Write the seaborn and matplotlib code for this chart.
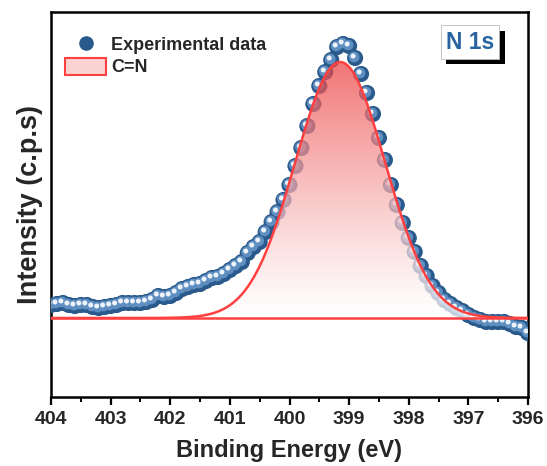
import numpy as np
import pandas as pd
import matplotlib
matplotlib.use("Agg")
import matplotlib.pyplot as plt
import matplotlib.transforms as mtransforms
import matplotlib.patheffects as pe
from matplotlib.lines import Line2D
from matplotlib.patches import Patch
import seaborn as sns

# N 1s high-resolution spectrum (binding energy in eV, intensity in counts/s)
binding_energy = [
    404.0, 403.9, 403.8, 403.7, 403.6, 403.5, 403.4, 403.3, 403.2, 403.1,
    403.0, 402.9, 402.8, 402.7, 402.6, 402.5, 402.4, 402.3, 402.2, 402.1,
    402.0, 401.9, 401.8, 401.7, 401.6, 401.5, 401.4, 401.3, 401.2, 401.1,
    401.0, 400.9, 400.8, 400.7, 400.6, 400.5, 400.4, 400.3, 400.2, 400.1,
    400.0, 399.9, 399.8, 399.7, 399.6, 399.5, 399.4, 399.3, 399.2, 399.1,
    399.0, 398.9, 398.8, 398.7, 398.6, 398.5, 398.4, 398.3, 398.2, 398.1,
    398.0, 397.9, 397.8, 397.7, 397.6, 397.5, 397.4, 397.3, 397.2, 397.1,
    397.0, 396.9, 396.8, 396.7, 396.6, 396.5, 396.4, 396.3, 396.2, 396.1,
    396.0,
]
intensity = [
    920, 930, 940, 920, 910, 920, 920, 900, 890, 900,
    910, 920, 940, 940, 940, 940, 950, 970, 1010, 1000,
    1010, 1040, 1080, 1100, 1120, 1130, 1160, 1190, 1200, 1230,
    1270, 1310, 1350, 1440, 1500, 1550, 1650, 1750, 1850, 1970,
    2120, 2310, 2490, 2710, 2930, 3110, 3250, 3370, 3500, 3530,
    3510, 3390, 3230, 3040, 2830, 2590, 2370, 2120, 1920, 1740,
    1590, 1450, 1310, 1210, 1110, 1040, 970, 930, 890, 860,
    820, 790, 770, 750, 750, 750, 750, 730, 700, 690,
    640,
]

# C=N component (Gaussian) on a flat background
peak_center = 399.15
peak_fwhm = 1.78
peak_height = 2560
background = 790

x_ticks = [404, 403, 402, 401, 400, 399, 398, 397, 396]

df = pd.DataFrame({"energy": binding_energy, "counts": intensity})

fit_energy = np.linspace(404, 396, 801)
sigma = peak_fwhm / (2 * np.sqrt(2 * np.log(2)))
fit_counts = background + peak_height * np.exp(-0.5 * ((fit_energy - peak_center) / sigma) ** 2)
fit_df = pd.DataFrame({"energy": fit_energy, "counts": fit_counts})

sns.set_theme(style="white")
plt.rcParams["font.family"] = ["Liberation Sans", "DejaVu Sans"]
plt.rcParams["font.weight"] = "bold"

fig = plt.figure(figsize=(5.47, 4.66), dpi=100)
ax = fig.add_axes([51 / 547, 69 / 466, 477 / 547, 385 / 466])

ymin, ymax = 0, 3850

# spherical-looking markers: dark body, lighter core, specular highlight
sns.scatterplot(data=df, x="energy", y="counts", ax=ax, s=135, color="#2a5a8c",
                edgecolor="none", linewidth=0, zorder=3, legend=False)
core = mtransforms.offset_copy(ax.transData, fig=fig, x=-1.0, y=1.0, units="dots")
ax.scatter(df["energy"], df["counts"], s=60, color="#5f8fc0", edgecolor="none",
           transform=core, zorder=3.1)
spec = mtransforms.offset_copy(ax.transData, fig=fig, x=-2.0, y=2.0, units="dots")
ax.scatter(df["energy"], df["counts"], s=13, color="#eef3fa", edgecolor="none",
           transform=spec, zorder=3.2)

# gradient fill under the component (red at the top fading to white)
n = 256
t = np.linspace(0, 1, n)[:, None]
top = np.array([0.93, 0.25, 0.25])
bottom = np.array([1.0, 1.0, 1.0])
rgb = bottom + (top - bottom) * (t ** 1.2)
alpha = np.full((n, 1), 0.72)
grad = np.concatenate([rgb, alpha], axis=1)[:, None, :]
img = ax.imshow(grad, extent=[404, 396, background, background + peak_height],
                origin="lower", aspect="auto", zorder=4, interpolation="bilinear")
poly = ax.fill_between(fit_energy, background, fit_counts, color="none", zorder=4)
img.set_clip_path(poly.get_paths()[0], transform=ax.transData)

sns.lineplot(data=fit_df, x="energy", y="counts", ax=ax, color="#ff4040",
             linewidth=1.8, zorder=5, legend=False)
ax.axhline(background, color="#ff4040", linewidth=1.8, zorder=5)

ax.set_xlim(404, 396)
ax.set_ylim(ymin, ymax)
ax.set_xticks(x_ticks)
ax.set_xticklabels([str(v) for v in x_ticks])
ax.set_xticks(np.arange(396, 404.01, 0.5), minor=True)
ax.set_yticks([])
ax.tick_params(axis="x", which="major", direction="out", length=6, width=1.6,
               labelsize=14, pad=4, bottom=True, color="black")
ax.tick_params(axis="x", which="minor", direction="out", length=3.5, width=1.4,
               bottom=True, color="black")
for lab in ax.get_xticklabels():
    lab.set_fontweight("bold")

for side in ax.spines.values():
    side.set_visible(True)
    side.set_linewidth(1.8)
    side.set_color("black")

ax.set_xlabel("Binding Energy (eV)", fontsize=17, fontweight="bold", labelpad=8)
ax.set_ylabel("Intensity (c.p.s)", fontsize=19.5, fontweight="bold", labelpad=6)

handles = [
    Line2D([], [], linestyle="none", marker="o", markersize=10.5,
           markerfacecolor="#2a5a8c", markeredgecolor="none"),
    Patch(facecolor="#fbd3d3", edgecolor="#ff4040", linewidth=1.5),
]
leg = ax.legend(handles, ["Experimental data", "C=N"], loc="upper left",
                bbox_to_anchor=(-0.005, 0.982), frameon=False,
                prop={"size": 13, "weight": "bold"}, handlelength=2.3,
                handleheight=1.1, handletextpad=0.25, labelspacing=0.2,
                borderaxespad=0.5)

label = ax.text(0.878, 0.922, "N 1s", transform=ax.transAxes, ha="center", va="center",
                fontsize=16.5, fontweight="bold", color="#2a64a0", zorder=6,
                bbox=dict(boxstyle="square,pad=0.22", facecolor="white",
                          edgecolor="#bbbbbb", linewidth=0.6))
label.get_bbox_patch().set_path_effects([
    pe.SimplePatchShadow(offset=(4, -4), shadow_rgbFace="black", alpha=1.0),
    pe.Normal(),
])

fig.savefig("out.png", dpi=100)
